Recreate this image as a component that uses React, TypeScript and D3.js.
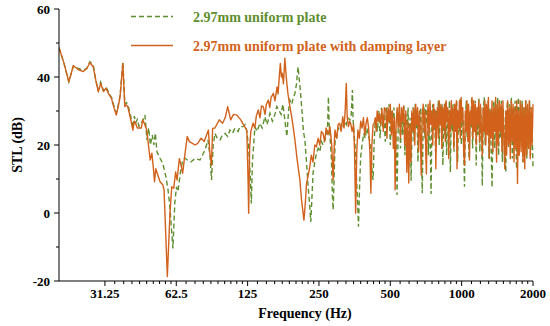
import React from "react";
import * as d3 from "d3";

const W = 550;
const H = 326;

const seriesNames = ["2.97mm uniform plate", "2.97mm uniform plate with damping layer"];
const xTickValues = [31.25, 62.5, 125, 250, 500, 1000, 2000];
const xTickLabels = ["31.25", "62.5", "125", "250", "500", "1000", "2000"];
const yTickValues = [-20, 0, 20, 40, 60];
const yMinorValues = [-10, 10, 30, 50];

// [frequency Hz, STL dB]
const uniformPlate: [number, number][] = [
  [20, 48.7], [21, 44], [22, 38.6], [23, 43.3], [24.1, 42.5], [25.3, 42], [26.2, 42.5], [27, 44.5], [27.9, 43.5],
  [28.6, 39], [29.3, 36], [30, 38.5], [30.8, 36], [31.6, 37], [32.4, 35.5], [33.3, 34], [34.1, 31.5], [34.9, 29.5],
  [35.5, 31.5], [36.2, 34.5], [37.2, 44.5], [37.9, 32], [38.5, 32.5], [39, 32], [40, 29], [41, 25], [41.6, 28.5],
  [42.1, 26.5], [42.8, 27.5], [43.5, 25.5], [44.2, 26], [45, 27], [46.1, 28.8], [47, 21.5], [47.8, 25], [48.6, 20],
  [49.5, 22.9], [50.3, 20], [51, 23.5], [51.8, 18], [53.4, 16.1], [54.8, 14.6], [56.5, 10.7], [57.7, 6.8], [58.7, 1.9],
  [60.5, -10.4], [61.6, 2.8], [62.6, 7.7], [63.5, 6.3], [65, 11.7], [66.5, 15.6], [68, 16.1], [70, 15.5], [72, 15],
  [75, 16], [78.7, 15.6], [80.5, 17], [82.6, 18.5], [85, 21.5], [86.7, 17], [88, 9.7], [89.5, 20], [91, 23.4],
  [93, 22], [95.6, 21.5], [98, 23], [100.3, 23.4], [103, 22.5], [105.3, 24.4], [108, 23.5], [110.5, 24.9], [114, 24],
  [116, 25.4], [119.6, 25.4], [122, 26], [124, 24], [126, 20], [128, 12], [129.6, 2.8], [131, 15], [134.2, 25.4],
  [137, 24], [140.9, 26.4], [144, 25], [147.9, 28.3], [151, 26], [155.3, 29.3], [159, 27], [163, 29], [166, 31.3],
  [170, 30], [173, 29], [176, 32], [179, 28], [183, 22.5], [186, 30], [188.6, 33.2], [192, 32], [195, 34], [198, 35.2],
  [201, 38], [204, 43], [206, 40], [208, 37.1], [212, 30], [215, 24], [218, 21.5], [222, 14], [225, 7.7], [228, 3],
  [231, -2.6], [234, 6], [236, 11.7], [240, 15], [244, 17.6], [248, 19], [252, 18], [256, 21], [260, 20], [265, 21.5],
  [269, 23], [272, 26], [274, 34.2], [276, 26], [278, 23.4], [282, 16], [285, 5], [287, 0.9], [290, 12], [293, 23.4],
  [297, 22], [301, 25], [306, 24.4], [311, 26], [316, 25], [321, 27], [326, 26], [331, 28], [337.8, 27.4], [342, 29],
  [346, 36.2], [348, 28], [351, 23.4], [355, 20], [359, 12], [363, 5], [367, -4], [371, 8], [375, 16.6], [380, 20],
  [386, 23.4], [392, 22], [398, 25], [404, 23], [410, 21], [415, 17], [419, 12], [423, 9.7], [427, 20], [432, 27.4],
  [435, 27.4], [441, 24], [447, 30], [453, 22], [459, 31], [465, 25], [470, 29.3], [476, 21], [482, 31], [488, 26],
  [494, 32], [500, 20], [506, 30], [512, 25], [518, 31], [523, 18], [528, 24], [534, 5.3], [540, 26], [546, 31],
  [552, 19], [558, 30], [564, 23], [570, 32], [576, 17], [582, 29], [588, 22], [594, 31], [600, 14], [606, 28],
  [612, 9.5], [618, 27], [624, 31], [630, 21], [636, 32], [642, 25], [648, 30], [654, 15], [660, 29], [666, 24],
  [672, 31], [677, 18], [682, 5.8], [688, 27], [694, 31], [700, 22], [706, 32], [712, 26], [718, 30], [724, 17],
  [730, 28], [737, 20], [743, 5.6], [749, 27], [755, 32], [762, 24], [769, 31], [776, 18], [783, 30], [790, 25],
  [797, 33], [804, 20], [811, 30], [818, 26], [826, 32], [833, 14], [841, 29], [848, 23], [856, 33], [864, 17],
  [872, 30], [880, 25], [888, 33], [896, 12], [904, 29], [912, 24], [920, 32], [929, 18], [937, 31], [945, 26],
  [953, 33], [962, 15], [970, 30], [979, 24], [988, 34], [997, 20], [1006, 31], [1015, 26], [1028, 7.7], [1037, 28],
  [1046, 33], [1055, 22], [1064, 32], [1074, 16], [1083, 30], [1093, 25], [1102, 34], [1112, 19], [1122, 31],
  [1132, 26], [1142, 33], [1152, 14], [1162, 30], [1172, 23], [1182, 34], [1193, 18], [1203, 31], [1213, 25],
  [1222, 8], [1234, 30], [1245, 34], [1256, 20], [1268, 32], [1280, 24], [1292, 33], [1304, 16], [1316, 31],
  [1328, 22], [1344, 7.5], [1356, 29], [1368, 33], [1380, 19], [1393, 32], [1406, 23], [1419, 34], [1432, 17],
  [1445, 31], [1458, 22], [1471, 33], [1485, 15], [1498, 31], [1512, 24], [1535, 12], [1549, 30], [1563, 33],
  [1577, 19], [1592, 32], [1606, 22], [1621, 34], [1636, 16], [1651, 31], [1666, 23], [1681, 33], [1705, 13],
  [1720, 30], [1736, 34], [1752, 18], [1768, 31], [1784, 22], [1800, 33], [1817, 15], [1833, 31], [1850, 20],
  [1867, 33], [1884, 16], [1901, 30], [1918, 22], [1936, 33], [1954, 17], [1972, 31], [1990, 20], [2000, 13.6],
];

const dampedPlate: [number, number][] = [
  [20, 48.7], [21, 44], [22, 38.6], [23, 43.3], [24.1, 42.2], [25.3, 41.6], [26.2, 42.5], [27, 44.2], [27.9, 43],
  [28.6, 39], [29.3, 35.7], [30, 38.1], [30.8, 35.7], [31.6, 36.7], [32.4, 35], [33.3, 33.7], [34.1, 31], [34.9, 28.8],
  [35.5, 31], [36.2, 34.2], [37.2, 44], [37.9, 31.3], [38.5, 31.8], [39, 31.3], [40, 28], [41, 24.4], [41.6, 27],
  [42.1, 26.4], [42.8, 25], [44.5, 25], [45.1, 27.4], [46, 26], [46.9, 24.4], [47.7, 20], [48.5, 15.6], [49.3, 17.6],
  [49.9, 14], [50.6, 9.2], [51.2, 13], [53.4, 9.2], [54.8, 8.3], [55.5, 6.8], [57.3, -18.7], [58.8, 0], [59.8, 7.7],
  [61, 7.3], [62.1, 12.1], [63, 9.7], [64.4, 16], [65.5, 14], [66.5, 11.7], [67.8, 16.6], [69.5, 22.5], [71, 21],
  [73.1, 20.5], [75, 20], [77, 20.5], [79.5, 22], [82, 21], [85.4, 24.4], [86.5, 18], [87.9, 14], [89, 24.9],
  [91, 25], [94.9, 27.4], [98, 26.4], [100.5, 28], [103, 31.3], [106, 27.4], [109, 29], [112.6, 28.8], [117, 27.4],
  [120, 26], [124, 24.4], [125.5, 10], [126.3, -0.1], [127.5, 19.5], [129, 24], [131.8, 26.4], [134, 25], [136, 28.5],
  [138.6, 30.3], [141, 28], [143, 31.5], [145.5, 31.3], [148, 29], [150, 32], [152.9, 33.2], [155, 31], [157, 34],
  [160.6, 35.2], [163, 33], [166.4, 37.1], [168, 35], [170, 40], [171.8, 44], [173.5, 40], [175, 41.1], [177, 38],
  [179.5, 45.5], [181, 42], [183, 38.1], [185, 35], [188.5, 31.3], [191, 29], [194, 26], [197.9, 21.5], [202, 16],
  [207.7, 9.7], [211, 4], [216, -2.1], [219, 3], [221.5, 8.7], [225, 11], [228.7, 13.6], [232, 17], [236, 15],
  [240, 20], [244, 19.5], [248, 22], [252, 20], [256, 24], [260, 23.4], [264, 21], [268, 25], [273, 23], [278, 25.4],
  [283, 20], [287, 9.7], [290, 20], [292, 24.4], [297, 22], [301, 26], [305.6, 26.4], [310, 24], [315, 28.3],
  [319, 25], [323, 31], [326, 38.1], [329, 28], [333, 25.4], [337, 27], [340, 26.4], [345, 24], [350, 26], [353, 19],
  [357, -0.1], [361, 18], [365, 24.4], [370, 22], [375, 27], [380, 25], [385, 28], [390, 23], [395, 26.4], [400, 28],
  [405, 25], [410, 18], [414, 5.8], [418, 20], [423, 26], [428, 26.4], [432, 28], [436, 24], [440, 30], [444, 27],
  [449, 29.3], [455, 26], [461, 30.5], [467, 24], [472, 31], [479, 30.3], [484, 22], [489, 31], [495, 27], [500, 32],
  [505, 23], [510, 30], [515, 19], [520, 28], [524, 6.8], [529, 26], [534, 31], [540, 25], [546, 32], [552, 22],
  [558, 31], [563, 27], [569, 31.5], [575, 20], [581, 30], [587, 12], [593, 27], [598, 8.8], [604, 26], [610, 15],
  [616, 30], [622, 24], [628, 31], [634, 20], [640, 32], [646, 26], [652, 31], [658, 18], [664, 30], [670, 22],
  [675, 11.2], [681, 28], [688, 32], [694, 24], [700, 30], [706, 17], [710, 11.5], [716, 28], [722, 32], [729, 23],
  [735, 33], [742, 26], [748, 30], [755, 20], [762, 32], [768, 25], [774, 30], [778, 13], [784, 27], [790, 31],
  [797, 22], [804, 33], [811, 26], [818, 32], [825, 19], [832, 31], [839, 25], [846, 32], [853, 21], [860, 33],
  [867, 27], [874, 31], [882, 16], [889, 30], [896, 24], [904, 33], [911, 26], [919, 31], [927, 19], [935, 32],
  [943, 24], [950, 33], [956, 13], [963, 30], [971, 25], [979, 33], [987, 22], [995, 34], [1003, 27], [1011, 31],
  [1020, 18], [1028, 14], [1036, 30], [1045, 24], [1053, 33], [1062, 21], [1070, 32], [1079, 15.6], [1088, 30],
  [1097, 26], [1106, 34], [1115, 22], [1124, 33], [1133, 24], [1142, 32], [1152, 20], [1161, 31], [1171, 26],
  [1180, 33], [1190, 21], [1200, 32], [1211, 25], [1222, 17], [1232, 31], [1243, 24], [1253, 33], [1264, 20],
  [1275, 32], [1286, 23], [1297, 34], [1308, 16], [1320, 30], [1331, 22], [1343, 33], [1355, 18], [1367, 31],
  [1379, 24], [1391, 34], [1404, 15], [1416, 32], [1429, 20], [1441, 33], [1454, 24], [1467, 32], [1480, 18],
  [1493, 33], [1506, 22], [1520, 13], [1535, 30], [1548, 17], [1562, 33], [1576, 20], [1590, 31], [1604, 16],
  [1619, 33], [1633, 21], [1648, 32], [1663, 15], [1678, 31], [1693, 19], [1708, 33], [1720, 8.7], [1735, 30],
  [1750, 17], [1766, 33], [1782, 18], [1798, 32], [1814, 15], [1830, 31], [1846, 13], [1862, 33], [1879, 17],
  [1896, 32], [1913, 19], [1930, 33], [1947, 16], [1965, 31], [1982, 20], [2000, 32],
];

const GREEN = "#5E8E2E";
const ORANGE = "#D2621B";
const FONT = '"Liberation Serif", "Times New Roman", Times, serif';

export default function App() {
  const left = 59, right = 533, top = 9, bottom = 281;
  const x = d3.scaleLog().domain([20, 2000]).range([left, right]);
  const y = d3.scaleLinear().domain([-20, 60]).range([bottom, top]);

  const line = d3
    .line<[number, number]>()
    .x((d) => x(d[0]))
    .y((d) => y(d[1]));

  const minorX: number[] = [];
  xTickValues.slice(0, -1).forEach((base) => {
    for (let j = 1; j <= 9; j++) minorX.push(base * (1 + j / 10));
  });

  const txt: React.CSSProperties = { fontFamily: FONT, fontWeight: 700 };

  return (
    <div style={{ position: "absolute", left: 0, top: 0 }}>
      <svg width={W} height={H} style={{ display: "block", background: "#fff" }}>
        <defs>
          <clipPath id="plotclip">
            <rect x={left} y={0} width={right - left + 2} height={bottom} />
          </clipPath>
        </defs>
        <g clipPath="url(#plotclip)">
          <path d={line(uniformPlate) || ""} fill="none" stroke={GREEN} strokeWidth={1.4} strokeDasharray="5,3" />
          <path d={line(dampedPlate) || ""} fill="none" stroke={ORANGE} strokeWidth={1.4} strokeLinejoin="round" />
        </g>
        <line x1={left} x2={left} y1={top} y2={bottom} stroke="#000" strokeWidth={1} />
        <line x1={left} x2={right} y1={bottom} y2={bottom} stroke="#000" strokeWidth={1} />
        {yTickValues.map((v) => (
          <g key={"yt" + v}>
            <line x1={left - 5} x2={left} y1={y(v)} y2={y(v)} stroke="#000" />
            <text x={left - 9} y={y(v) + 4.5} textAnchor="end" style={txt} fontSize={13}>
              {v}
            </text>
          </g>
        ))}
        {yMinorValues.map((v) => (
          <line key={"ym" + v} x1={left - 3} x2={left} y1={y(v)} y2={y(v)} stroke="#000" />
        ))}
        {xTickValues.map((v, i) => (
          <g key={"xt" + v}>
            <line x1={x(v)} x2={x(v)} y1={bottom} y2={bottom + 5} stroke="#000" />
            <text x={x(v)} y={bottom + 17} textAnchor="middle" style={txt} fontSize={13}>
              {xTickLabels[i]}
            </text>
          </g>
        ))}
        {minorX.map((v, i) => (
          <line key={"xm" + i} x1={x(v)} x2={x(v)} y1={bottom} y2={bottom + 3} stroke="#000" />
        ))}
        <text x={305} y={318} textAnchor="middle" style={txt} fontSize={14}>
          Frequency (Hz)
        </text>
        <text transform="translate(22,145) rotate(-90)" textAnchor="middle" style={txt} fontSize={14}>
          STL (dB)
        </text>
        <line x1={131} x2={173} y1={16.5} y2={16.5} stroke={GREEN} strokeWidth={1.4} strokeDasharray="5,3" />
        <text x={193} y={21.5} style={txt} fontSize={14} fill={GREEN}>
          {seriesNames[0]}
        </text>
        <line x1={131} x2={173} y1={45.5} y2={45.5} stroke={ORANGE} strokeWidth={1.4} />
        <text x={193} y={50.5} style={txt} fontSize={14} fill={ORANGE}>
          {seriesNames[1]}
        </text>
      </svg>
    </div>
  );
}
